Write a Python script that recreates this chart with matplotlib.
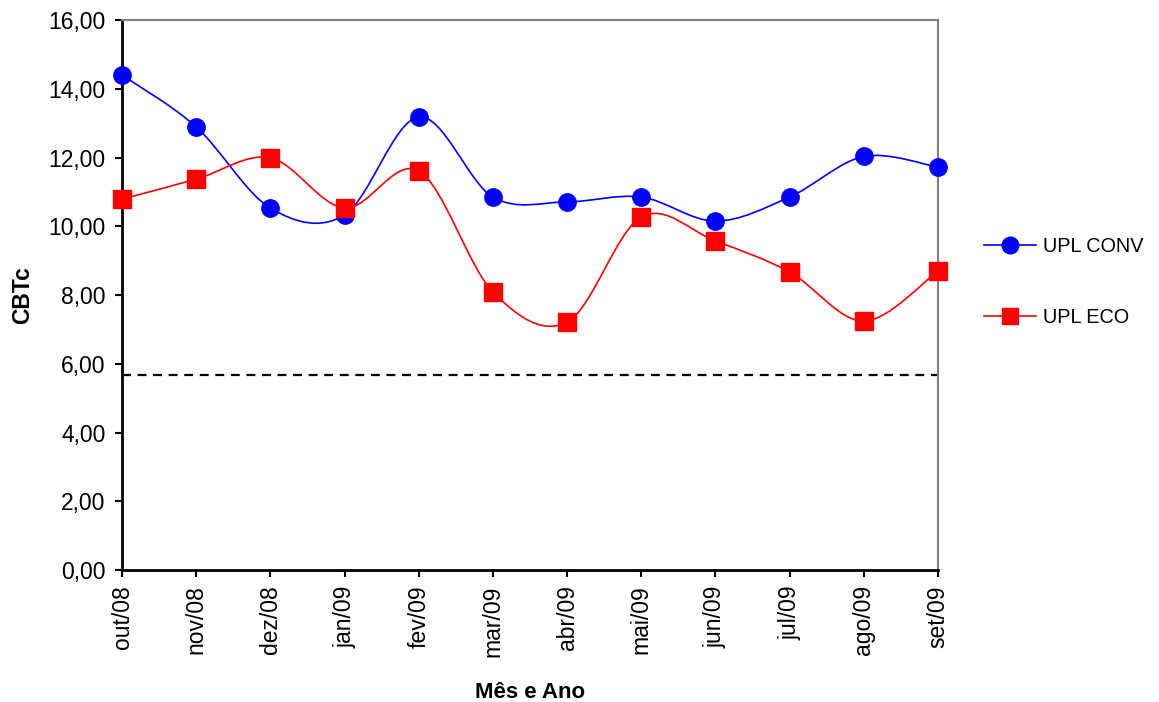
import matplotlib
matplotlib.use("Agg")
import matplotlib.pyplot as plt
from matplotlib.path import Path
from matplotlib.patches import PathPatch
from matplotlib.lines import Line2D
import numpy as np

plt.rcParams['font.family'] = ['Liberation Sans', 'DejaVu Sans']

months = ["out/08", "nov/08", "dez/08", "jan/09", "fev/09", "mar/09",
          "abr/09", "mai/09", "jun/09", "jul/09", "ago/09", "set/09"]
upl_conv = [14.40, 12.89, 10.53, 10.33, 13.18, 10.85,
            10.71, 10.85, 10.15, 10.85, 12.03, 11.72]
upl_eco = [10.79, 11.37, 11.99, 10.53, 11.61, 8.09,
           7.21, 10.27, 9.57, 8.67, 7.24, 8.70]
reference_level = 5.66
y_ticks = [0, 2, 4, 6, 8, 10, 12, 14, 16]


def smooth_path(xs, ys):
    """Cubic Bezier path through the points (Catmull-Rom style smoothing)."""
    pts = np.column_stack([xs, ys]).astype(float)
    n = len(pts)
    verts = [pts[0]]
    codes = [Path.MOVETO]
    for i in range(n - 1):
        p0 = pts[i - 1] if i > 0 else pts[i]
        p1 = pts[i]
        p2 = pts[i + 1]
        p3 = pts[i + 2] if i + 2 < n else pts[i + 1]
        c1 = p1 + (p2 - p0) / 6.0
        c2 = p2 - (p3 - p1) / 6.0
        verts += [c1, c2, p2]
        codes += [Path.CURVE4] * 3
    return Path(verts, codes)


fig = plt.figure(figsize=(11.59, 7.02), dpi=100)
ax = fig.add_axes([0.1053, 0.188, 0.7040, 0.7835])

x = np.arange(len(months))

for values, color, marker, ms in [
        (upl_conv, "#0000FF", "o", 12.5),
        (upl_eco, "#FF0000", "s", 12.5)]:
    ax.add_patch(PathPatch(smooth_path(x, values), facecolor="none",
                           edgecolor=color, lw=1.2, zorder=3))
    ax.plot(x, values, linestyle="none", marker=marker, ms=ms,
            color=color, mec=color, zorder=4, clip_on=False)

ax.axhline(reference_level, color="black", lw=1.6, ls=(0, (4, 3)), zorder=2)

ax.set_xlim(0, len(months) - 1)
ax.set_ylim(0, 16)
ax.set_xticks(x)
ax.set_xticklabels(months, rotation=90, fontsize=16.5)
ax.set_yticks(y_ticks)
ax.set_yticklabels([f"{v:.2f}".replace(".", ",") for v in y_ticks], fontsize=16.5)
ax.tick_params(direction="out", length=5, width=1.5, color="black")
ax.tick_params(axis="y", pad=7)
ax.tick_params(axis="x", pad=6)

ax.spines["left"].set_linewidth(2)
ax.spines["bottom"].set_linewidth(2)
ax.spines["top"].set_color("#808080")
ax.spines["right"].set_color("#808080")
ax.spines["top"].set_linewidth(1.5)
ax.spines["right"].set_linewidth(1.5)

ax.set_ylabel("CBTc", fontsize=16.5, fontweight="bold", labelpad=10)
ax.set_xlabel("Mês e Ano", fontsize=16, fontweight="bold", labelpad=18)

handles = [
    Line2D([], [], color="#0000FF", marker="o", ms=12, lw=1.2, label="UPL CONV"),
    Line2D([], [], color="#FF0000", marker="s", ms=11.5, lw=1.2, label="UPL ECO"),
]
fig.legend(handles=handles, loc="center left", bbox_to_anchor=(0.834, 0.598),
           frameon=False, fontsize=14.3, handlelength=2.57, labelspacing=2.6,
           handletextpad=0.36)

fig.savefig("out.png", dpi=100)
